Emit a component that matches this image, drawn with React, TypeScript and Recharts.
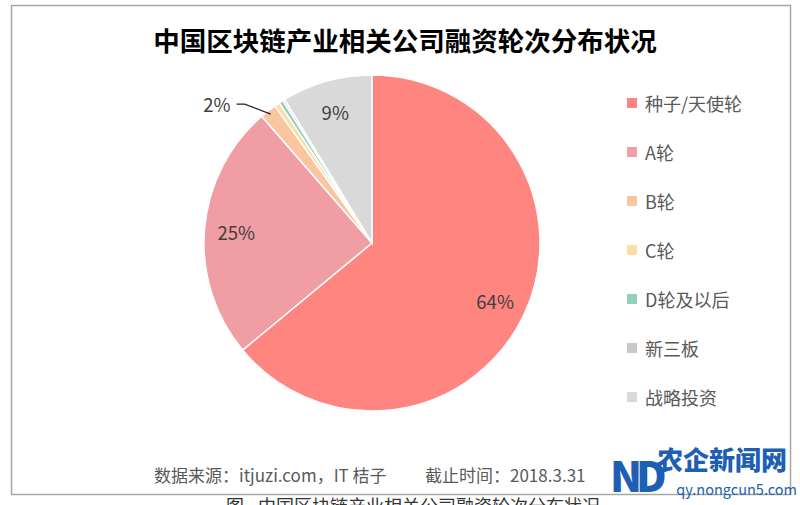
import React from "react";
import { PieChart, Pie, Cell, Legend } from "recharts";

const categories = ["种子/天使轮", "A轮", "B轮", "C轮", "D轮及以后", "新三板", "战略投资"];
const shares = [64.0, 24.6, 1.6, 0.5, 0.4, 0.2, 8.7];
const colors = ["#FF8580", "#F09DA3", "#F9C6A0", "#FDDDA4", "#8ED2BA", "#C9C9C9", "#D9D9D9"];

const title = "中国区块链产业相关公司融资轮次分布状况";
const sourceNote = "数据来源：itjuzi.com，IT 桔子";
const dateNote = "截止时间：2018.3.31";
const captionPrefix = "图";
const captionText = "中国区块链产业相关公司融资轮次分布状况";

const data = categories.map((name, i) => ({ name, value: shares[i], fill: colors[i] }));

const FONT = "'Noto Sans CJK SC', 'Noto Sans', sans-serif";
const RAD = Math.PI / 180;

const renderLabel = (props: any) => {
  const { cx, cy, midAngle, outerRadius, percent, index } = props;
  const raw = percent * 100;
  if (raw < 1.5) return null;
  const pct = Math.round(raw);
  const cos = Math.cos(-midAngle * RAD);
  const sin = Math.sin(-midAngle * RAD);
  if (pct < 5) {
    const sx = cx + (outerRadius - 4) * cos;
    const sy = cy + (outerRadius - 4) * sin;
    const ex = sx - 26;
    const ey = sy - 10;
    const hx = ex - 8;
    return (
      <g key={`lbl-${index}`}>
        <path d={`M${sx},${sy} L${ex},${ey} L${hx},${ey}`} stroke="#222" strokeWidth={1.3} fill="none" />
        <text x={hx - 6} y={ey} textAnchor="end" dominantBaseline="central" fontSize={18.5} fill="#404040" fontFamily={FONT}>
          {pct}%
        </text>
      </g>
    );
  }
  const r = outerRadius * 0.81;
  return (
    <text
      key={`lbl-${index}`}
      x={cx + r * cos}
      y={cy + r * sin}
      textAnchor="middle"
      dominantBaseline="central"
      fontSize={18.5}
      fill="#404040"
      fontFamily={FONT}
    >
      {pct}%
    </text>
  );
};

const renderLegend = () => (
  <div style={{ fontFamily: FONT }}>
    {data.map((d) => (
      <div key={d.name} style={{ display: "flex", alignItems: "center", height: 49 }}>
        <div style={{ width: 10, height: 10, background: d.fill, marginRight: 8 }} />
        <span style={{ fontSize: 18, color: "#595959", lineHeight: "20px" }}>{d.name}</span>
      </div>
    ))}
  </div>
);

export default function App() {
  return (
    <div style={{ position: "absolute", left: 0, top: 0, width: 800, height: 505, background: "#fff", overflow: "hidden" }}>
      <PieChart width={800} height={505} margin={{ top: 0, right: 0, bottom: 0, left: 0 }}>
        <Pie
          data={data}
          dataKey="value"
          nameKey="name"
          cx={372}
          cy={243}
          outerRadius={168}
          startAngle={90}
          endAngle={-270}
          stroke="#ffffff"
          strokeWidth={1.5}
          label={renderLabel}
          labelLine={false}
          isAnimationActive={false}
        >
          {data.map((d) => (
            <Cell key={d.name} fill={d.fill} />
          ))}
        </Pie>
        <Legend
          content={renderLegend}
          wrapperStyle={{ position: "absolute", left: 627, top: 78, width: 160 }}
        />
      </PieChart>
      <svg width={800} height={505} style={{ position: "absolute", left: 0, top: 0, pointerEvents: "none" }}>
        <rect x={11.5} y={5.5} width={779} height={489} fill="none" stroke="#A6A6A6" strokeWidth={1.5} />
        <text x={405} y={39} textAnchor="middle" dominantBaseline="central" fontSize={26.5} fontWeight={700} fill="#000" fontFamily={FONT}>
          {title}
        </text>
        <text x={154} y={474} dominantBaseline="central" fontSize={17} fill="#595959" fontFamily={FONT}>
          {sourceNote}
        </text>
        <text x={425} y={474} dominantBaseline="central" fontSize={17} fill="#595959" fontFamily={FONT}>
          {dateNote}
        </text>
        <text x={226} y={513} fontSize={18} fill="#333" fontFamily={FONT}>
          {captionPrefix}
        </text>
        <text x={258} y={513} fontSize={18} fill="#333" fontFamily={FONT}>
          {captionText}
        </text>
        <text x={610} y={492} fontSize={42} fontWeight={900} fill="#1E5FB3" fontFamily={FONT} letterSpacing={-6}>
          ND
        </text>
        <text x={657} y={470} fontSize={26} fontWeight={900} fill="#1E5FB3" fontFamily={FONT}>
          农企新闻网
        </text>
        <text x={797} y={495} textAnchor="end" fontSize={14.5} fill="#1E5FB3" fontFamily={FONT}>
          qy.nongcun5.com
        </text>
      </svg>
    </div>
  );
}
